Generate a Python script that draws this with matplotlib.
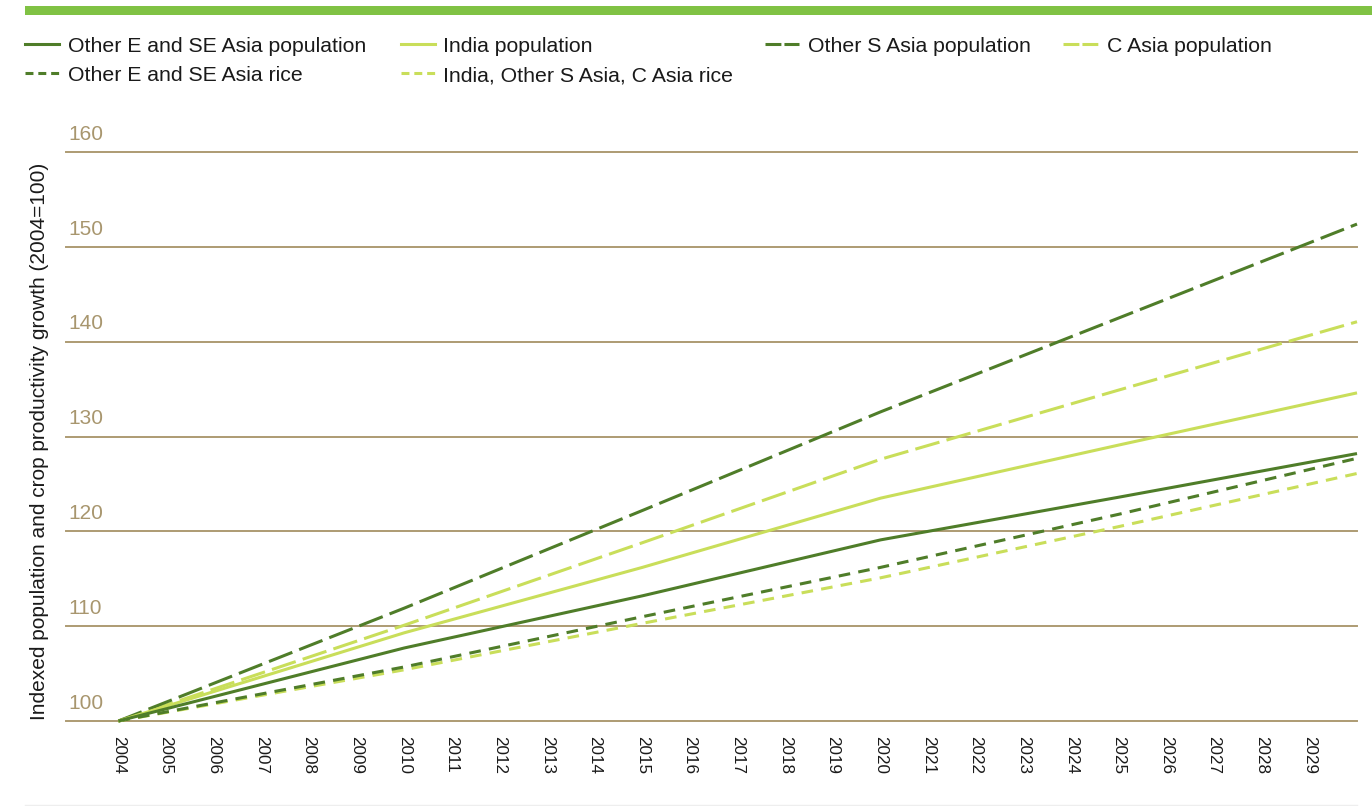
"""
Indexed population and rice productivity growth in Asian sub-regions, 2004-2030.
Recreates the line chart and saves it as out.png.
"""
import matplotlib.pyplot as plt
from matplotlib.lines import Line2D
from matplotlib.patches import Rectangle

# Data (index, 2004 = 100)
years = [2004, 2010, 2015, 2020, 2025, 2030]
other_e_se_pop = [100, 107.7, 113.2, 119.1, 123.6, 128.2]
india_pop = [100, 109.3, 116.2, 123.5, 129.1, 134.6]
other_s_pop = [100, 111.9, 122.2, 132.6, 142.5, 152.4]
c_asia_pop = [100, 110.1, 118.8, 127.6, 134.9, 142.1]
other_e_se_rice = [100, 105.7, 111.0, 116.2, 121.8, 127.7]
india_s_c_rice = [100, 105.4, 110.3, 115.1, 120.5, 126.1]

tick_years = list(range(2004, 2030))
y_ticks = [100, 110, 120, 130, 140, 150, 160]

DARK = '#4f7d29'
LIGHT = '#c9de5a'
TAN = '#a8966e'
GRID = '#ad9b73'

# (line style in the plot, line style in the legend key)
SOLID = ('-', '-')
LONG = ((0, (8.2, 2.4)), (0, (5.2, 1.0)))
SHORT = ((0, (3.8, 2.7)), (0, (2.6, 1.6)))

series = [
    ("Other E and SE Asia population", other_e_se_pop, DARK, SOLID),
    ("India population", india_pop, LIGHT, SOLID),
    ("Other S Asia population", other_s_pop, DARK, LONG),
    ("C Asia population", c_asia_pop, LIGHT, LONG),
    ("Other E and SE Asia rice", other_e_se_rice, DARK, SHORT),
    ("India, Other S Asia, C Asia rice", india_s_c_rice, LIGHT, SHORT),
]

plt.rcParams['font.family'] = ['Liberation Sans', 'DejaVu Sans']

W, H = 1372, 806
fig = plt.figure(figsize=(W / 100, H / 100), dpi=100)
ax = fig.add_axes([66 / W, 1 - 721 / H, (1357 - 66) / W, (721 - 152) / H])

# draw in reverse so the dark population lines sit on top
for name, vals, color, style in reversed(series):
    ax.plot(years, vals, color=color, linestyle=style[0], linewidth=2.2,
            clip_on=False, zorder=3, solid_capstyle='butt', dash_capstyle='butt')

ax.set_xlim(2002.9, 2030.0)
ax.set_ylim(100, 160)
for s in ax.spines.values():
    s.set_visible(False)

for t in y_ticks:
    ax.axhline(t, color=GRID, linewidth=1.4, zorder=1, clip_on=False)
    ax.annotate(str(t), xy=(0, t), xycoords=('axes fraction', 'data'),
                xytext=(1.5, 6), textcoords='offset points',
                ha='left', va='bottom', fontsize=15, color=TAN)
ax.set_yticks([])

ax.set_xticks(tick_years)
ax.set_xticklabels([str(y) for y in tick_years], rotation=270, fontsize=12.3,
                   color='#1a1a1a')
ax.tick_params(axis='x', length=0, pad=11)

fig.text(40 / W, 1 - 441 / H,
         'Indexed population and crop productivity growth (2004=100)',
         rotation=90, ha='center', va='center', fontsize=15, color='#1a1a1a')

# header bar and faint footer rule
fig.add_artist(Rectangle((25 / W, 1 - 15 / H), 1 - 25 / W, 9 / H,
                         transform=fig.transFigure, color='#80c244', lw=0))
fig.add_artist(Line2D([25 / W, 1357 / W], [1 - 805 / H] * 2,
                      transform=fig.transFigure, color='#eeeeee', lw=1))

# legend, laid out by hand to follow the original column positions
# (key start, key end, text start, row centre) in pixels
legend_slots = [
    (25, 59, 68, 44),
    (401, 435, 443, 44),
    (765, 799, 808, 44),
    (1063, 1098, 1107, 44),
    (25, 59, 68, 73),
    (401, 435, 443, 73),
]
for (name, vals, color, style), (x0, x1, tx, yy) in zip(series, legend_slots):
    fig.add_artist(Line2D([x0 / W, x1 / W], [1 - yy / H] * 2,
                          transform=fig.transFigure, color=color,
                          linestyle=style[1], linewidth=2.2, dash_capstyle='butt'))
    fig.text(tx / W, 1 - (yy + 2.5) / H, name, ha='left', va='center',
             fontsize=15.3, color='#1a1a1a')

fig.savefig('out.png', dpi=100)
